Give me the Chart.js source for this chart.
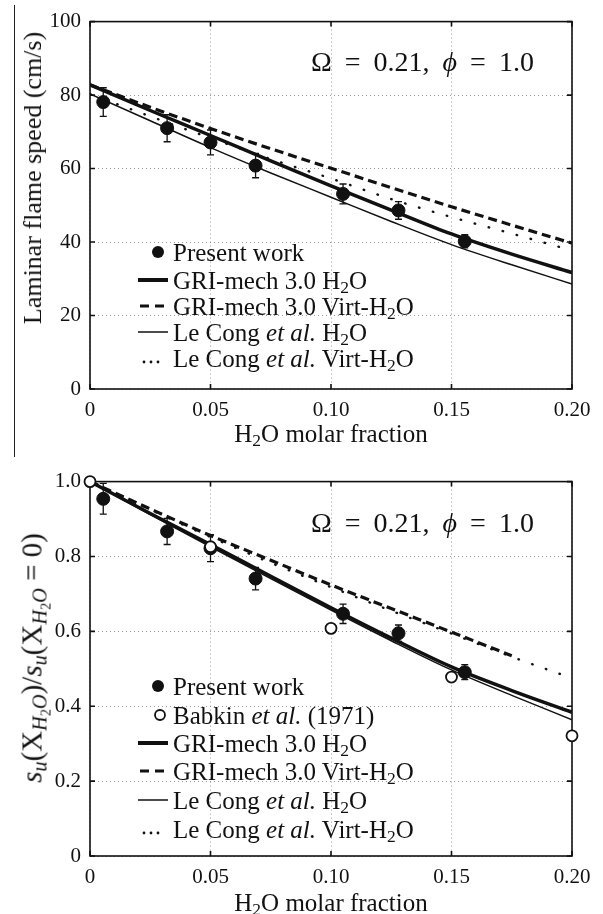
<!DOCTYPE html>
<html>
<head>
<meta charset="utf-8">
<script src="https://cdn.jsdelivr.net/npm/chart.js@4.4.1/dist/chart.umd.min.js"></script>
<style>
    body { margin: 0; background: #fff; width: 603px; height: 914px; overflow: hidden; position: relative; font-family: "Liberation Serif", serif; color: #111; }
    .panel { position: absolute; left: 0; width: 603px; }
    .txt { position: absolute; white-space: nowrap; line-height: 1; transform: translateY(-50%); }
    .ytitle { position: absolute; white-space: nowrap; line-height: 1; transform: translate(-50%, -50%) rotate(-90deg); font-size: 26px; }
    .xtitle { position: absolute; white-space: nowrap; line-height: 1; transform: translate(-50%, -50%); font-size: 25px; }
    .note { font-size: 28px; word-spacing: 6px; }
    .leg { font-size: 25px; }
    .sub { font-size: 70%; position: relative; top: 0.25em; }
    .sym { position: absolute; left: 134px; width: 40px; height: 20px; }
    .crop { position: absolute; left: 14px; top: 5px; height: 452px; border-left: 1.5px solid #222; }
</style>
</head>
<body>
<div class="crop"></div>
<div class="panel" style="top:0; height:455px;"><canvas id="speedChart"></canvas></div>
<div class="panel" style="top:460px; height:454px;"><canvas id="ratioChart"></canvas></div>
<div id="overlay"></div>

<script>
// Data
const xModel = [0, 0.025, 0.05, 0.075, 0.10, 0.125, 0.15, 0.175, 0.20];
const xTicks = [0, 0.05, 0.10, 0.15, 0.20];
const xTickLabels = ['0', '0.05', '0.10', '0.15', '0.20'];

// Top: laminar flame speed (cm/s)
const speedTicks = [0, 20, 40, 60, 80, 100];
const speedTickLabels = ['0', '20', '40', '60', '80', '100'];
const speedGriH2O = [82.8, 75.8, 69.0, 62.1, 55.3, 48.7, 42.2, 36.7, 31.7];
const speedGriVirt = [82.8, 76.7, 70.9, 65.4, 60.1, 54.8, 49.6, 44.6, 39.7];
const speedLeCongH2O = [80.3, 73.0, 65.7, 58.8, 52.2, 45.6, 39.3, 33.8, 28.6];
const speedLeCongVirt = [80.3, 74.2, 68.3, 62.6, 57.3, 51.7, 46.8, 42.3, 37.7];
const xPresent = [0.0055, 0.032, 0.050, 0.0687, 0.105, 0.128, 0.1555];
const speedPresent = [78.1, 71.0, 67.1, 60.8, 53.1, 48.6, 40.2];
const speedPresentErr = [3.9, 3.7, 3.4, 3.3, 2.7, 2.4, 1.8];

// Bottom: su(X) / su(X=0)
const ratioTicks = [0, 0.2, 0.4, 0.6, 0.8, 1.0];
const ratioTickLabels = ['0', '0.2', '0.4', '0.6', '0.8', '1.0'];
const ratioGriH2O = [1.0, 0.915, 0.832, 0.747, 0.663, 0.582, 0.505, 0.442, 0.384];
const ratioGriVirt = [1.0, 0.927, 0.856, 0.790, 0.724, 0.661, 0.598, 0.535, null];
const ratioLeCongH2O = [1.0, 0.912, 0.826, 0.741, 0.657, 0.575, 0.497, 0.429, 0.364];
const ratioLeCongVirt = [1.0, 0.925, 0.852, 0.783, 0.718, 0.655, 0.594, 0.532, 0.475];
const ratioPresent = [0.954, 0.867, 0.822, 0.741, 0.647, 0.595, 0.491];
const ratioPresentErr = [0.041, 0.035, 0.036, 0.030, 0.026, 0.022, 0.020];
const xBabkin = [0, 0.05, 0.10, 0.15, 0.20];
const ratioBabkin = [1.0, 0.826, 0.608, 0.478, 0.321];

const ink = '#111';
const font = { family: 'Liberation Serif', size: 21 };

function points(xs, ys) {
    let out = [];
    xs.forEach((x, i) => { if (ys[i] != null) out.push({ x: x, y: ys[i] }); });
    return out;
}

// Error bars under the markers
const errorBars = {
    id: 'errorBars',
    beforeDatasetsDraw(chart) {
        const { ctx, scales: { x, y } } = chart;
        ctx.save();
        ctx.strokeStyle = ink;
        ctx.lineWidth = 1.3;
        chart.data.datasets.forEach(ds => {
            if (!ds.errors) return;
            ds.data.forEach((p, i) => {
                const px = x.getPixelForValue(p.x);
                const lo = y.getPixelForValue(p.y - ds.errors[i]);
                const hi = y.getPixelForValue(p.y + ds.errors[i]);
                ctx.beginPath();
                ctx.moveTo(px, lo); ctx.lineTo(px, hi);
                ctx.moveTo(px - 3.5, lo); ctx.lineTo(px + 3.5, lo);
                ctx.moveTo(px - 3.5, hi); ctx.lineTo(px + 3.5, hi);
                ctx.stroke();
            });
        });
        ctx.restore();
    }
};

// Box round the plot with inward ticks (matlab style)
const frame = {
    id: 'frame',
    beforeDatasetsDraw(chart) {
        const { ctx, chartArea: a, scales: { x, y } } = chart;
        ctx.save();
        ctx.strokeStyle = ink;
        ctx.lineWidth = 1.6;
        ctx.strokeRect(a.left, a.top, a.right - a.left, a.bottom - a.top);
        ctx.beginPath();
        x.ticks.forEach(t => {
            const px = x.getPixelForValue(t.value);
            ctx.moveTo(px, a.bottom); ctx.lineTo(px, a.bottom - 5);
            ctx.moveTo(px, a.top); ctx.lineTo(px, a.top + 5);
        });
        y.ticks.forEach(t => {
            const py = y.getPixelForValue(t.value);
            ctx.moveTo(a.left, py); ctx.lineTo(a.left + 5, py);
            ctx.moveTo(a.right, py); ctx.lineTo(a.right - 5, py);
        });
        ctx.stroke();
        ctx.restore();
    }
};

function lineSet(label, data, width, dash) {
    return {
        label: label,
        data: points(xModel, data),
        showLine: true,
        borderColor: ink,
        borderWidth: width,
        borderDash: dash,
        borderCapStyle: dash.length && dash[0] < 2 ? 'round' : 'butt',
        cubicInterpolationMode: 'monotone',
        pointRadius: 0
    };
}

function makeChart(id, datasets, yTicks, yLabels, yMax, pad, xHeight) {
    new Chart(document.getElementById(id), {
        type: 'scatter',
        data: { datasets: datasets },
        options: {
            responsive: true,
            maintainAspectRatio: false,
            animation: false,
            events: [],
            layout: { padding: pad },
            plugins: { legend: { display: false }, tooltip: { enabled: false } },
            scales: {
                x: {
                    min: 0, max: 0.20,
                    afterBuildTicks: axis => { axis.ticks = xTicks.map(v => ({ value: v })); },
                    afterFit: axis => { axis.height = xHeight; },
                    ticks: { font: font, color: ink, padding: 9, maxRotation: 0, callback: (v, i) => xTickLabels[i] },
                    grid: { color: '#9a9a9a', lineWidth: 1, drawTicks: false },
                    border: { display: false, dash: [1, 3] }
                },
                y: {
                    min: 0, max: yMax,
                    afterBuildTicks: axis => { axis.ticks = yTicks.map(v => ({ value: v })); },
                    afterFit: axis => { axis.width = 90; },
                    ticks: { font: font, color: ink, padding: 9, callback: (v, i) => yLabels[i] },
                    grid: { color: '#9a9a9a', lineWidth: 1, drawTicks: false },
                    border: { display: false, dash: [1, 3] }
                }
            }
        },
        plugins: [frame, errorBars]
    });
}

// Top chart
makeChart('speedChart', [
    { label: 'Present work', data: points(xPresent, speedPresent), errors: speedPresentErr,
      pointRadius: 6.5, pointBackgroundColor: ink, pointBorderColor: ink, showLine: false },
    lineSet('GRI-mech 3.0 H2O', speedGriH2O, 3.5, []),
    lineSet('GRI-mech 3.0 Virt-H2O', speedGriVirt, 3.2, [9, 5]),
    lineSet('Le Cong et al. H2O', speedLeCongH2O, 1.5, []),
    lineSet('Le Cong et al. Virt-H2O', speedLeCongVirt, 2.4, [0.5, 14])
], speedTicks, speedTickLabels, 100, { top: 14, right: 31, left: 0, bottom: 0 }, 66);

// Bottom chart
makeChart('ratioChart', [
    { label: 'Babkin et al. (1971)', data: points(xBabkin, ratioBabkin), clip: false,
      pointRadius: 5.5, pointBackgroundColor: '#fff', pointBorderColor: ink, pointBorderWidth: 1.8, showLine: false },
    { label: 'Present work', data: points(xPresent, ratioPresent), errors: ratioPresentErr,
      pointRadius: 6.5, pointBackgroundColor: ink, pointBorderColor: ink, showLine: false },
    lineSet('GRI-mech 3.0 H2O', ratioGriH2O, 3.5, []),
    lineSet('GRI-mech 3.0 Virt-H2O', ratioGriVirt, 3.2, [9, 5]),
    lineSet('Le Cong et al. H2O', ratioLeCongH2O, 1.5, []),
    lineSet('Le Cong et al. Virt-H2O', ratioLeCongVirt, 2.4, [0.5, 14])
], ratioTicks, ratioTickLabels, 1.0, { top: 16, right: 31, left: 0, bottom: 0 }, 58);

// Text overlays: titles, note, legends
const h2o = 'H<span class="sub">2</span>O';
const symbols = {
    dot: '<circle cx="24" cy="10" r="6" fill="#111"/>',
    ring: '<circle cx="26" cy="10" r="5" fill="#fff" stroke="#111" stroke-width="1.8"/>',
    thick: '<line x1="4" y1="10" x2="34" y2="10" stroke="#111" stroke-width="4"/>',
    dash: '<line x1="6" y1="10" x2="34" y2="10" stroke="#111" stroke-width="3" stroke-dasharray="9 6"/>',
    thin: '<line x1="4" y1="10" x2="34" y2="10" stroke="#111" stroke-width="1.5"/>',
    dots: '<circle cx="10" cy="14" r="1.4" fill="#111"/><circle cx="17" cy="14" r="1.4" fill="#111"/><circle cx="24" cy="14" r="1.4" fill="#111"/>'
};
const legendTop = [
    { sym: 'dot', text: 'Present work', y: 252 },
    { sym: 'thick', text: 'GRI-mech 3.0 ' + h2o, y: 280 },
    { sym: 'dash', text: 'GRI-mech 3.0 Virt-' + h2o, y: 306 },
    { sym: 'thin', text: 'Le Cong <i>et al.</i> ' + h2o, y: 332 },
    { sym: 'dots', text: 'Le Cong <i>et al.</i> Virt-' + h2o, y: 358 }
];
const legendBottom = [
    { sym: 'dot', text: 'Present work', y: 686 },
    { sym: 'ring', text: 'Babkin <i>et al.</i> (1971)', y: 715 },
    { sym: 'thick', text: 'GRI-mech 3.0 ' + h2o, y: 743 },
    { sym: 'dash', text: 'GRI-mech 3.0 Virt-' + h2o, y: 771 },
    { sym: 'thin', text: 'Le Cong <i>et al.</i> ' + h2o, y: 800 },
    { sym: 'dots', text: 'Le Cong <i>et al.</i> Virt-' + h2o, y: 829 }
];

let html = '';
legendTop.concat(legendBottom).forEach(row => {
    html += `<svg class="sym" style="top:${row.y - 10}px">${symbols[row.sym]}</svg>
             <div class="txt leg" style="left:173px; top:${row.y}px">${row.text}</div>`;
});
const note = '&Omega; = 0.21, <i>&#981;</i> = 1.0';
html += `<div class="txt note" style="left:311px; top:62px">${note}</div>
         <div class="txt note" style="left:311px; top:523px">${note}</div>
         <div class="xtitle" style="left:331px; top:433px">${h2o} molar fraction</div>
         <div class="xtitle" style="left:331px; top:902px">${h2o} molar fraction</div>
         <div class="ytitle" style="left:33px; top:178px">Laminar flame speed (cm/s)</div>
         <div class="ytitle" style="left:32px; top:658px; font-size:29px"><i>s<span class="sub">u</span></i>(X<span class="sub"><i>H</i><span class="sub">2</span><i>O</i></span>)/<i>s<span class="sub">u</span></i>(X<span class="sub"><i>H</i><span class="sub">2</span><i>O</i></span> = 0)</div>`;
document.getElementById('overlay').innerHTML = html;
</script>
</body>
</html>
